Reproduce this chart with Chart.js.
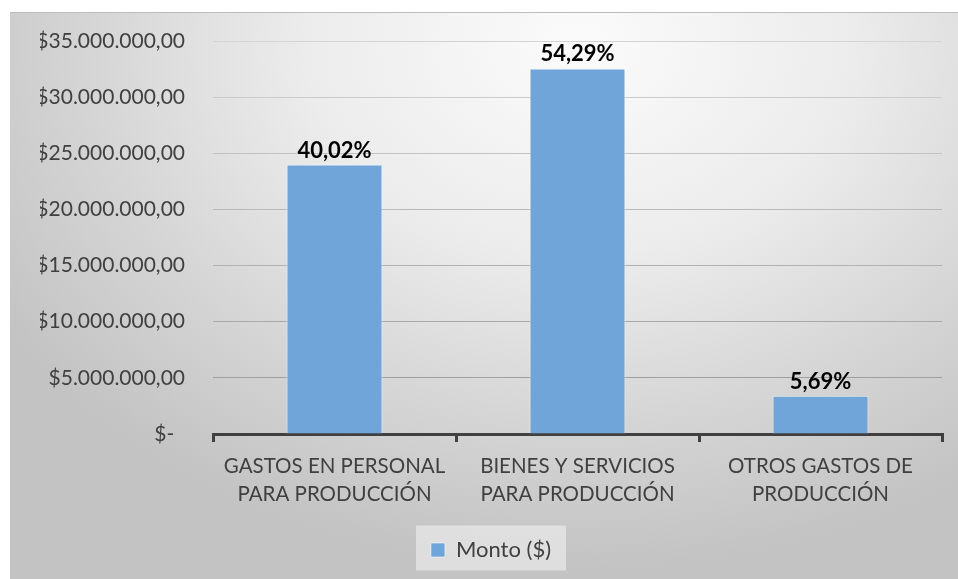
<!DOCTYPE html>
<html>
<head>
<meta charset="utf-8">
<script src="https://cdn.jsdelivr.net/npm/chart.js@4.4.1/dist/chart.umd.min.js"></script>
<style>
  body { margin: 0; background: #ffffff; }
  #marco {
    position: absolute; left: 10px; top: 12px; width: 948px; height: 567px;
    border-top: 1px solid #bcbcbc;
    box-sizing: border-box;
    background: radial-gradient(ellipse 72% 92% at 60% 6%, #fbfbfb 0%, #ececec 40%, #d5d5d5 72%, #c3c3c3 100%);
  }
</style>
</head>
<body>
<div id="marco"><canvas id="grafico" width="948" height="566"></canvas></div>
<script>
var categorias = [
  ["GASTOS EN PERSONAL", "PARA PRODUCCIÓN"],
  ["BIENES Y SERVICIOS", "PARA PRODUCCIÓN"],
  ["OTROS GASTOS DE", "PRODUCCIÓN"]
];
var montos = [24000000, 32560000, 3410000];
var porcentajes = ["40,02%", "54,29%", "5,69%"];
var serie = "Monto ($)";

var fuente = "Lato, 'Open Sans', sans-serif";

function formatoPesos(v) {
  if (v == 0) return "$-  ";
  var s = Math.round(v).toString().replace(/\B(?=(\d{3})+(?!\d))/g, ".");
  return "$" + s + ",00";
}

// lineas de grilla: mas claras arriba, mas oscuras abajo (como en la imagen)
function colorGrilla(ctx) {
  var v = ctx.tick ? ctx.tick.value : 0;
  var t = v / 35000000;
  var g = Math.round(150 + (212 - 150) * t);
  return "rgb(" + g + "," + g + "," + g + ")";
}

// etiquetas de porcentaje encima de cada barra
var etiquetas = {
  id: "etiquetas",
  afterDatasetsDraw: function(chart) {
    var ctx = chart.ctx;
    var meta = chart.getDatasetMeta(0);
    ctx.save();
    ctx.font = "bold 22px " + fuente;
    ctx.fillStyle = "#000000";
    ctx.textAlign = "center";
    ctx.textBaseline = "bottom";
    meta.data.forEach(function(bar, i) {
      ctx.fillText(porcentajes[i], bar.x, bar.y - 3);
    });
    ctx.restore();
  }
};

// caja gris detras de la leyenda
var fondoLeyenda = {
  id: "fondoLeyenda",
  beforeDraw: function(chart) {
    var lg = chart.legend;
    if (!lg) return;
    var ctx = chart.ctx;
    ctx.save();
    ctx.fillStyle = "rgba(240,240,240,0.6)";
    var w = 150, h = 45;
    var cx = lg.left + lg.width / 2;
    var cy = lg.top + lg.height / 2;
    ctx.fillRect(cx - w / 2, cy - h / 2, w, h);
    ctx.restore();
  }
};

new Chart(document.getElementById("grafico"), {
  type: "bar",
  data: {
    labels: categorias,
    datasets: [{
      label: serie,
      data: montos,
      backgroundColor: "#6fa5d9",
      borderColor: "rgba(255,255,255,0.55)",
      borderWidth: 1,
      barPercentage: 0.395,
      categoryPercentage: 1
    }]
  },
  options: {
    responsive: false,
    animation: false,
    layout: { padding: { top: 28, right: 16, bottom: 8, left: 30 } },
    plugins: {
      legend: {
        position: "bottom",
        labels: {
          font: { family: fuente, size: 22 },
          color: "#404040",
          boxWidth: 14,
          boxHeight: 14,
          padding: 14
        }
      },
      tooltip: { enabled: false }
    },
    scales: {
      x: {
        offset: true,
        afterFit: function(scale) { scale.height = 91; },
        grid: {
          display: true,
          drawOnChartArea: false,
          drawTicks: true,
          tickLength: 8,
          color: "#404040",
          lineWidth: 3,
          offset: true
        },
        border: { display: true, color: "#404040", width: 3 },
        ticks: {
          font: { family: fuente, size: 20.5, lineHeight: 1.37 },
          color: "#404040",
          padding: 10,
          maxRotation: 0,
          autoSkip: false
        }
      },
      y: {
        min: 0,
        max: 35000000,
        afterFit: function(scale) {
          scale.width = 173;
          scale.paddingTop = 0;
          scale.paddingBottom = 0;
        },
        grid: { color: colorGrilla, lineWidth: 1, drawTicks: false },
        border: { display: false },
        ticks: {
          stepSize: 5000000,
          font: { family: fuente, size: 21 },
          color: "#404040",
          padding: 28,
          callback: function(v) { return formatoPesos(v); }
        }
      }
    }
  },
  plugins: [etiquetas, fondoLeyenda]
});
</script>
</body>
</html>
